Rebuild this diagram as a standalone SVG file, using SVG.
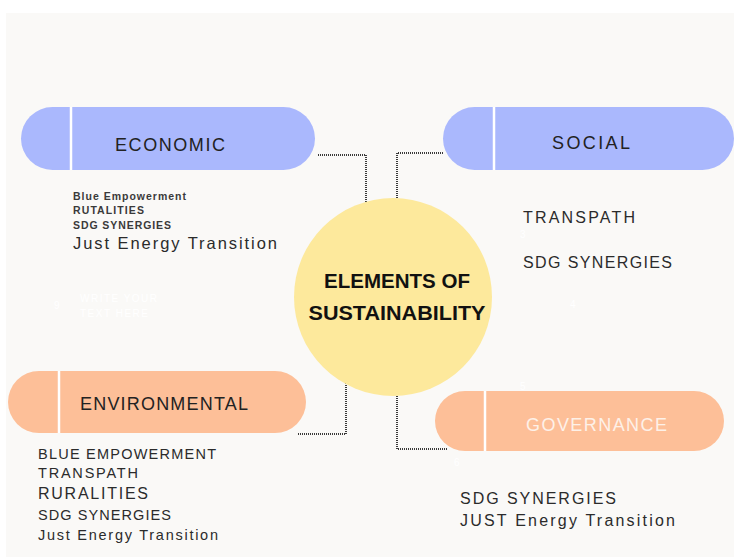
<svg xmlns="http://www.w3.org/2000/svg" width="734" height="559" viewBox="0 0 734 559">
<style>
.pill-blue{fill:#aab8fd}
.pill-peach{fill:#fdbf98}
.div{stroke:#ffffff;stroke-width:2.5}
.lbl{font-family:"Liberation Sans",Arial,sans-serif;font-size:18px;fill:#222222;text-anchor:start}
.item{font-family:"Liberation Sans",Arial,sans-serif;fill:#2b2b2b}
.small{font-family:"Liberation Sans",Arial,sans-serif;font-size:10.5px;font-weight:bold;fill:#3a3a3a}
.ghost{font-family:"Liberation Sans",Arial,sans-serif;font-size:10px;fill:#ffffff}
.conn{fill:none;stroke:#3a3a3a;stroke-width:2;stroke-dasharray:1 1}
</style>
<rect x="0" y="0" width="734" height="559" fill="#ffffff"/>
<rect x="6" y="13" width="728" height="544" fill="#faf9f7"/>

<g id="connectors">
<path class="conn" d="M318 155 H366 V212"/>
<path class="conn" d="M443 153 H397 V199"/>
<path class="conn" d="M298 434 H346 V378"/>
<path class="conn" d="M397 394 V449 H448"/>
</g>

<g id="center">
<circle cx="393" cy="297" r="99" fill="#fde99c"/>
<text x="397" y="288" text-anchor="middle" font-family="Liberation Sans,Arial,sans-serif" font-weight="bold" font-size="20.5" fill="#111111" textLength="146" lengthAdjust="spacingAndGlyphs">ELEMENTS OF</text>
<text x="397" y="320" text-anchor="middle" font-family="Liberation Sans,Arial,sans-serif" font-weight="bold" font-size="20.5" fill="#111111" textLength="177" lengthAdjust="spacingAndGlyphs">SUSTAINABILITY</text>
</g>

<g id="economic">
<rect class="pill-blue" x="21" y="107" width="294" height="63" rx="31.5"/>
<line class="div" x1="71" y1="107" x2="71" y2="170"/>
<text class="lbl" x="115" y="151" textLength="110" lengthAdjust="spacing">ECONOMIC</text>
<text class="small" x="73" y="200" textLength="113" lengthAdjust="spacing">Blue Empowerment</text>
<text class="small" x="73" y="214" textLength="71" lengthAdjust="spacing">RUTALITIES</text>
<text class="small" x="73" y="229" textLength="98" lengthAdjust="spacing">SDG SYNERGIES</text>
<text class="item" x="73" y="249" font-size="16.5" textLength="204" lengthAdjust="spacing">Just Energy Transition</text>
</g>

<g id="social">
<rect class="pill-blue" x="443" y="107" width="291" height="63" rx="31.5"/>
<line class="div" x1="494" y1="107" x2="494" y2="170"/>
<text class="lbl" x="552" y="149" textLength="78" lengthAdjust="spacing">SOCIAL</text>
<text class="item" x="523" y="223" font-size="16" textLength="112" lengthAdjust="spacing">TRANSPATH</text>
<text class="item" x="523" y="268" font-size="16" textLength="149" lengthAdjust="spacing">SDG SYNERGIES</text>
</g>

<g id="environmental">
<rect class="pill-peach" x="8" y="371" width="298" height="62" rx="31"/>
<line class="div" x1="59" y1="371" x2="59" y2="433"/>
<text class="lbl" x="80" y="410" font-size="17.5" textLength="168" lengthAdjust="spacing">ENVIRONMENTAL</text>
<text class="item" x="38" y="459" font-size="14.5" textLength="178" lengthAdjust="spacing">BLUE EMPOWERMENT</text>
<text class="item" x="38" y="478" font-size="14.5" textLength="100" lengthAdjust="spacing">TRANSPATH</text>
<text class="item" x="38" y="499" font-size="16" textLength="110" lengthAdjust="spacing">RURALITIES</text>
<text class="item" x="38" y="520" font-size="14.5" textLength="133" lengthAdjust="spacing">SDG SYNERGIES</text>
<text class="item" x="38" y="540" font-size="14.5" textLength="180" lengthAdjust="spacing">Just Energy Transition</text>
</g>

<g id="governance">
<rect class="pill-peach" x="435" y="391" width="289" height="60" rx="30"/>
<line class="div" x1="485" y1="391" x2="485" y2="451"/>
<text x="526" y="431" font-family="Liberation Sans,Arial,sans-serif" font-size="18" fill="#fdf1e8" textLength="141" lengthAdjust="spacing">GOVERNANCE</text>
<text class="item" x="460" y="504" font-size="16" textLength="156" lengthAdjust="spacing">SDG SYNERGIES</text>
<text class="item" x="460" y="526" font-size="16" textLength="215" lengthAdjust="spacing">JUST Energy Transition</text>
</g>

<g id="faint">
<text class="ghost" x="54" y="309" font-size="13">9</text>
<text class="ghost" x="80" y="302" textLength="77" lengthAdjust="spacing">WRITE YOUR</text>
<text class="ghost" x="80" y="317" textLength="68" lengthAdjust="spacing">TEXT HERE</text>
<text class="ghost" x="570" y="308" font-size="12">4</text>
<text class="ghost" x="520" y="238" font-size="10">3</text>
<text class="ghost" x="520" y="390" font-size="12">5</text>
<text class="ghost" x="454" y="466" font-size="12">6</text>
</g>
</svg>
